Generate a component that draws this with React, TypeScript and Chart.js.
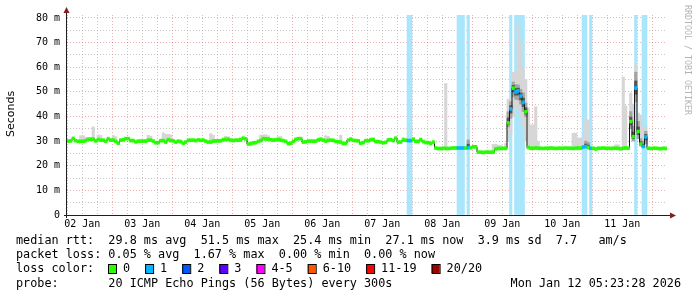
import { useEffect, useRef } from 'react';
import { Chart, registerables } from 'chart.js';

Chart.register(...registerables);

// ---------- data ----------
const startHour = 5.9; // hours after 02 Jan 00:00 where the graph starts
const hoursShown = 240;
const yMax = 81.2;

const dayLabels = ['02 Jan', '03 Jan', '04 Jan', '05 Jan', '06 Jan', '07 Jan', '08 Jan', '09 Jan', '10 Jan', '11 Jan'];
const yMajorStep = 10;
const yMinorStep = 5;
const yTop = 80;
const xMinorHours = 6;

// hourly median RTT (ms)
const medianRtt = [
  30.0, 30.1, 31.1, 30.2, 29.9, 29.9, 29.9, 30.2, 30.8, 30.8,
  30.8, 30.1, 30.6, 30.4, 30.4, 29.9, 31.0, 30.4, 30.4, 29.9,
  29.1, 30.4, 30.5, 31.0, 31.0, 30.2, 30.2, 29.7, 30.0, 30.0,
  30.0, 30.0, 30.4, 30.4, 30.0, 29.3, 29.4, 30.2, 30.2, 29.6,
  30.6, 30.2, 30.1, 29.6, 30.0, 29.8, 29.1, 29.6, 30.3, 30.4,
  30.4, 30.2, 30.5, 30.3, 30.4, 30.0, 29.6, 29.6, 30.0, 30.1,
  30.1, 30.1, 30.6, 30.7, 30.7, 30.4, 30.2, 30.4, 30.4, 30.5,
  31.2, 30.9, 28.8, 28.9, 29.3, 29.4, 29.9, 30.2, 31.0, 30.9,
  30.8, 30.6, 30.4, 30.5, 30.6, 30.4, 30.2, 29.9, 29.0, 29.1,
  29.9, 30.7, 31.0, 31.0, 29.6, 29.7, 30.0, 30.0, 30.0, 30.0,
  30.5, 30.8, 30.4, 30.0, 30.3, 30.4, 30.3, 29.9, 29.7, 29.6,
  29.0, 29.1, 30.4, 30.8, 30.3, 30.2, 30.1, 29.1, 29.4, 30.2,
  30.1, 30.6, 30.7, 29.8, 29.8, 29.6, 29.3, 29.5, 30.5, 30.6,
  30.2, 31.2, 29.6, 29.6, 30.4, 30.4, 30.2, 30.2, 30.8, 29.9,
  29.9, 30.6, 29.8, 29.4, 29.4, 29.0, 29.6, 27.2, 27.0, 27.0,
  27.1, 27.0, 27.0, 27.1, 27.2, 27.2, 27.2, 27.2, 27.2, 27.2,
  27.3, 27.3, 27.7, 27.7, 25.5, 25.5, 25.4, 25.5, 25.5, 25.5,
  25.5, 26.8, 27.0, 27.0, 27.1, 27.0, 37.4, 43.1, 51.5, 50.0,
  50.4, 48.3, 45.7, 41.9, 27.4, 27.1, 27.1, 27.2, 27.1, 27.1,
  27.0, 27.1, 27.1, 27.2, 27.1, 27.0, 27.1, 27.1, 27.1, 27.2,
  27.1, 27.1, 27.0, 27.1, 27.2, 27.1, 27.6, 27.8, 27.4, 27.1,
  27.1, 26.8, 27.1, 27.1, 27.2, 27.1, 27.1, 27.0, 27.1, 27.1,
  27.0, 26.9, 27.1, 27.2, 27.1, 37.9, 31.8, 51.5, 33.9, 28.8,
  27.8, 31.7, 27.1, 27.0, 27.1, 27.1, 27.0, 26.9, 27.1, 27.0,
];

// hours (index into medianRtt) with 1/20 packets lost
const lossHours = [136, 137, 156, 157, 158, 160, 177, 179, 180, 181, 182, 206, 207, 209, 227, 230, 231];

// light smoke: [hour, highest ping, lowest ping (optional, defaults to median)]
const smokeLight: Array<[number, number, number?]> = [
  [5, 32.2], [6, 32.2], [7, 31.6], [10, 35.8], [12, 32.5], [13, 32.3], [18, 32.2], [19, 31.8],
  [32, 32.4], [33, 32.0], [38, 33.4], [39, 32.8], [40, 32.8], [41, 32.5], [57, 33.0], [58, 32.4],
  [63, 32.0], [64, 31.8], [69, 31.6], [77, 32.4], [78, 32.6], [79, 32.6], [80, 32.2], [84, 31.8],
  [85, 31.9], [103, 32.2], [104, 31.9], [109, 32.4], [134, 31.5], [151, 53.4], [170, 28.7],
  [171, 28.7], [172, 28.4], [173, 28.3], [175, 29.0], [176, 47.0, 30.0], [177, 47.5, 33.0],
  [178, 58.0, 40.0], [179, 58.0, 44.0], [180, 78.0, 43.0], [181, 70.0, 40.0], [182, 59.6, 36.0],
  [183, 55.0, 30.0], [184, 43.5], [185, 36.6], [186, 36.6], [187, 44.0], [188, 30.0], [202, 33.2],
  [203, 33.2], [204, 31.3], [205, 31.3], [206, 30.5], [207, 38.6], [208, 38.6], [219, 28.5],
  [220, 28.5], [222, 56.0], [223, 44.3], [225, 49.5], [226, 45.0], [227, 61.0], [228, 41.4],
  [229, 40.6], [230, 35.3], [231, 35.8],
];

// dark smoke close to the median: [hour, low, high]
const smokeDark: Array<[number, number, number]> = [
  [160, 27.2, 30.5], [176, 35.8, 41.9], [177, 39.2, 46.0], [178, 48.0, 54.0], [179, 47.0, 53.0],
  [180, 46.7, 52.8], [181, 45.0, 51.0], [182, 42.0, 49.6], [183, 39.9, 45.5], [207, 27.4, 30.0],
  [208, 27.2, 29.5], [225, 35.0, 42.0], [226, 30.0, 36.0], [227, 46.0, 58.0], [228, 31.0, 38.0],
  [229, 28.0, 31.0], [230, 27.5, 30.0], [231, 29.0, 34.0],
];

const rttLine = 'median rtt:  29.8 ms avg  51.5 ms max  25.4 ms min  27.1 ms now  3.9 ms sd  7.7   am/s';
const lossLine = 'packet loss: 0.05 % avg  1.67 % max  0.00 % min  0.00 % now';
const lossColorTitle = 'loss color:';
const lossLegendLabels = ['0', '1', '2', '3', '4-5', '6-10', '11-19', '20/20'];
const lossLegendColors = ['#26ff00', '#00b8ff', '#0059ff', '#5e00ff', '#ff00ff', '#ff5500', '#ff0000', '#a10000'];
const probeLine = 'probe:       20 ICMP Echo Pings (56 Bytes) every 300s';
const dateLine = 'Mon Jan 12 05:23:28 2026';
const yTitle = 'Seconds';
const watermark = 'RRDTOOL / TOBI OETIKER';

// ---------- styles ----------
const MONO = "'DejaVu Sans Mono', 'Liberation Mono', monospace";
const SANS = "'DejaVu Sans', sans-serif";
const minorGrid = 'rgba(143,143,143,0.5)';
const majorGrid = 'rgba(222,79,79,0.45)';
const axisColor = 'rgb(31,31,31)';
const arrowColor = 'rgb(128,31,31)';
const lossBandColor = '#aae6fb';
const lightSmokeColor = '#d6d6d6';
const darkSmokeOuter = '#a4a4a4';
const darkSmokeInner = '#555555';
const medianLineColor = '#1a1a1a';
const medianHalfThickness = 0.6;

const hourX = (i: number) => startHour + i + 0.5;

const overlayPlugin = {
  id: 'overlay',
  beforeDraw(chart: any) {
    const { ctx, width, height } = chart;
    ctx.save();
    ctx.fillStyle = '#ffffff';
    ctx.fillRect(0, 0, width, height);
    ctx.restore();
  },
  afterDraw(chart: any) {
    const { ctx, chartArea } = chart;
    const { left, right, top, bottom } = chartArea;
    ctx.save();
    // axes
    ctx.strokeStyle = axisColor;
    ctx.lineWidth = 1;
    ctx.beginPath();
    ctx.moveTo(left - 3, bottom + 0.5);
    ctx.lineTo(right + 4, bottom + 0.5);
    ctx.moveTo(left - 0.5, bottom + 3);
    ctx.lineTo(left - 0.5, top - 2);
    ctx.stroke();
    // arrows
    ctx.fillStyle = arrowColor;
    ctx.beginPath();
    ctx.moveTo(left - 0.5, top - 8);
    ctx.lineTo(left - 3.5, top - 2);
    ctx.lineTo(left + 2.5, top - 2);
    ctx.closePath();
    ctx.fill();
    ctx.beginPath();
    ctx.moveTo(right + 9, bottom + 0.5);
    ctx.lineTo(right + 3, bottom - 2.5);
    ctx.lineTo(right + 3, bottom + 3.5);
    ctx.closePath();
    ctx.fill();

    // y title
    ctx.fillStyle = '#000';
    ctx.font = `11px ${SANS}`;
    ctx.textAlign = 'center';
    ctx.textBaseline = 'middle';
    ctx.save();
    ctx.translate(11, 114);
    ctx.rotate(-Math.PI / 2);
    ctx.fillText(yTitle, 0, 0);
    ctx.restore();

    // watermark
    ctx.save();
    ctx.fillStyle = '#b4b4b4';
    ctx.font = `8.3px ${MONO}`;
    ctx.textAlign = 'left';
    ctx.textBaseline = 'middle';
    ctx.translate(687, 5);
    ctx.rotate(Math.PI / 2);
    ctx.fillText(watermark, 0, 0);
    ctx.restore();

    // footer legend
    ctx.fillStyle = '#000';
    ctx.font = `11.8px ${MONO}`;
    ctx.textAlign = 'left';
    ctx.textBaseline = 'middle';
    ctx.fillText(rttLine, 16, 241);
    ctx.fillText(lossLine, 16, 255);
    ctx.fillText(lossColorTitle, 16, 269);
    let sx = 108;
    lossLegendLabels.forEach((lab, i) => {
      ctx.fillStyle = lossLegendColors[i];
      ctx.fillRect(sx, 264, 8, 9);
      ctx.strokeStyle = '#000';
      ctx.lineWidth = 1;
      ctx.strokeRect(sx + 0.5, 264.5, 8, 9);
      ctx.fillStyle = '#000';
      ctx.fillText(lab, sx + 15, 269);
      sx += 30 + 7.1 * lab.length;
    });
    ctx.fillText(probeLine, 16, 284);
    ctx.textAlign = 'right';
    ctx.fillText(dateLine, 681, 284);
    ctx.restore();
  },
};

const gridHours: number[] = [];
for (let h = xMinorHours; h <= startHour + hoursShown; h += xMinorHours) gridHours.push(h);
const yGrid: number[] = [];
for (let v = 0; v <= yTop; v += yMinorStep) yGrid.push(v);

export default function App() {
  const ref = useRef<HTMLCanvasElement | null>(null);
  useEffect(() => {
    document.body.style.margin = '0';
    const canvas = ref.current;
    if (!canvas) return;
    const barCommon = { grouped: false, barPercentage: 1, categoryPercentage: 1, borderWidth: 0 };
    const chart = new Chart(canvas, {
      type: 'bar',
      data: {
        datasets: [
          {
            ...barCommon,
            type: 'bar',
            label: 'loss',
            order: 6,
            data: lossHours.map((h) => ({ x: hourX(h), y: [0, yMax] })),
            backgroundColor: lossBandColor,
          } as any,
          {
            ...barCommon,
            type: 'bar',
            label: 'smoke',
            order: 5,
            data: smokeLight.map(([h, hi, lo]) => ({ x: hourX(h), y: [lo ?? medianRtt[h], hi] })),
            backgroundColor: lightSmokeColor,
          },
          {
            ...barCommon,
            type: 'bar',
            label: 'smoke dark',
            order: 4,
            data: smokeDark.map(([h, lo, hi]) => ({ x: hourX(h), y: [lo, hi] })),
            backgroundColor: darkSmokeOuter,
          },
          {
            ...barCommon,
            type: 'bar',
            label: 'smoke core',
            order: 3,
            data: smokeDark.map(([h, lo, hi]) => {
              const m = medianRtt[h];
              return { x: hourX(h), y: [m - (m - lo) * 0.45, m + (hi - m) * 0.45] };
            }),
            backgroundColor: darkSmokeInner,
          },
          {
            type: 'line',
            label: 'median step',
            order: 2,
            data: medianRtt.map((v, i) => ({ x: hourX(i), y: v })),
            stepped: 'middle',
            borderColor: medianLineColor,
            borderWidth: 1,
            pointRadius: 0,
            fill: false,
          } as any,
          {
            ...barCommon,
            type: 'bar',
            label: 'median',
            order: 1,
            data: medianRtt.map((v, i) => ({ x: hourX(i), y: [v - medianHalfThickness, v + medianHalfThickness] })),
            backgroundColor: medianRtt.map((_, i) => (lossHours.includes(i) ? lossLegendColors[1] : lossLegendColors[0])),
          },
        ],
      },
      options: {
        responsive: false,
        animation: false,
        devicePixelRatio: 1,
        layout: { padding: { top: 15, right: 30, bottom: 0, left: 0 } },
        plugins: { legend: { display: false }, tooltip: { enabled: false }, title: { display: false } },
        scales: {
          x: {
            type: 'linear',
            min: startHour,
            max: startHour + hoursShown,
            offset: false,
            afterBuildTicks: (s: any) => {
              s.ticks = gridHours.map((v) => ({ value: v }));
            },
            afterFit: (s: any) => {
              s.height = 82;
            },
            grid: {
              offset: false,
              drawTicks: false,
              lineWidth: 1,
              color: (c: any) => (c.tick && c.tick.value % 24 === 0 ? majorGrid : minorGrid),
            },
            border: { display: false, dash: [1, 2] },
            ticks: {
              autoSkip: false,
              maxRotation: 0,
              padding: 3,
              color: '#000',
              font: { family: MONO, size: 10 },
              callback: (v: any) => (v % 24 === 12 ? dayLabels[(v - 12) / 24] ?? '' : ''),
            },
          },
          y: {
            type: 'linear',
            min: 0,
            max: yMax,
            afterBuildTicks: (s: any) => {
              s.ticks = yGrid.map((v) => ({ value: v }));
            },
            afterFit: (s: any) => {
              s.width = 67;
            },
            grid: {
              drawTicks: false,
              lineWidth: 1,
              color: (c: any) => (c.tick && c.tick.value % yMajorStep === 0 ? majorGrid : minorGrid),
            },
            border: { display: false, dash: [1, 2] },
            ticks: {
              autoSkip: false,
              padding: 7,
              color: '#000',
              font: { family: MONO, size: 10 },
              callback: (v: any) => (v % yMajorStep === 0 ? (v === 0 ? '0' : `${v} m`) : ''),
            },
          },
        },
      } as any,
      plugins: [overlayPlugin],
    });
    return () => chart.destroy();
  }, []);
  return (
    <div style={{ width: 697, height: 297 }}>
      <canvas ref={ref} width={697} height={297} style={{ display: 'block', width: 697, height: 297 }} />
    </div>
  );
}
